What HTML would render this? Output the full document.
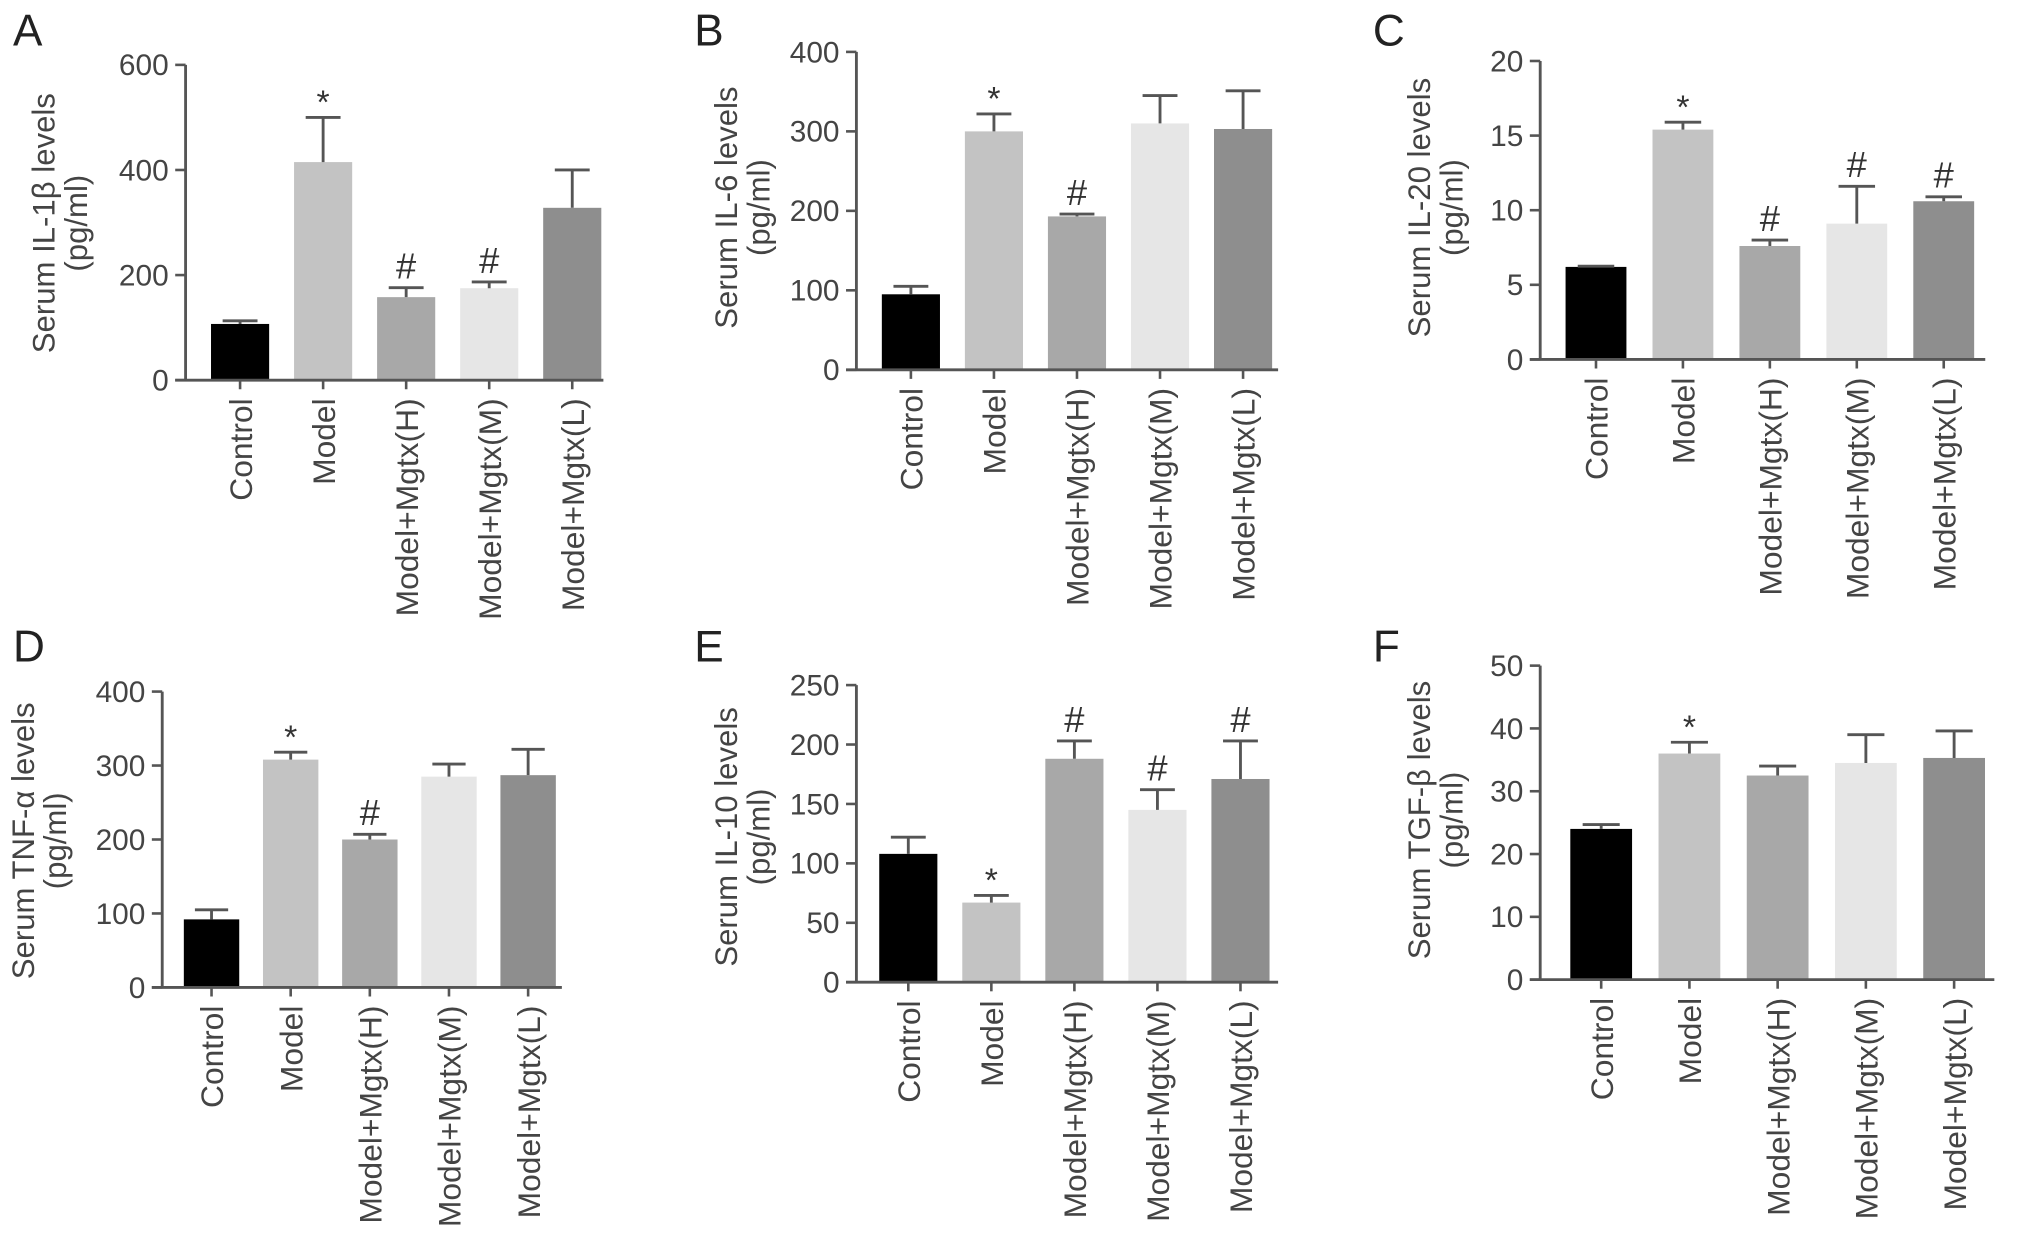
<!DOCTYPE html>
<html><head><meta charset="utf-8"><style>
html,body{margin:0;padding:0;background:#fff;}
svg{display:block;font-family:"Liberation Sans",sans-serif;}
</style></head><body>
<svg id="fig" width="2032" height="1249" viewBox="0 0 1566 962.6" xmlns="http://www.w3.org/2000/svg"></svg>
<script>
const categories = ["Control","Model","Model+Mgtx(H)","Model+Mgtx(M)","Model+Mgtx(L)"];
const valuesA = [107,415,158,175,328];
const errorsA = [6,85,18,12,72];
const marksA = ["","*","#","#",""];
const valuesB = [95,300,193,310,303];
const errorsB = [10,22,3,35,48];
const marksB = ["","*","#","",""];
const valuesC = [6.2,15.4,7.6,9.1,10.6];
const errorsC = [0.05,0.5,0.4,2.5,0.3];
const marksC = ["","*","#","#","#"];
const valuesD = [92,308,200,285,287];
const errorsD = [13,10,7,17,35];
const marksD = ["","*","#","",""];
const valuesE = [108,67,188,145,171];
const errorsE = [14,6,15,17,32];
const marksE = ["","*","#","#","#"];
const valuesF = [24,36,32.5,34.5,35.3];
const errorsF = [0.7,1.8,1.5,4.5,4.3];
const marksF = ["","*","","",""];
const ticksA = [0,200,400,600];
const ticksB = [0,100,200,300,400];
const ticksC = [0,5,10,15,20];
const ticksD = [0,100,200,300,400];
const ticksE = [0,50,100,150,200,250];
const ticksF = [0,10,20,30,40,50];

const colors = ["#000","#c3c3c3","#a8a8a8","#e6e6e6","#8e8e8e"];
const NS = "http://www.w3.org/2000/svg";
const svg = document.getElementById("fig");
const TXT = "#444";
function el(tag, attrs, parent){
  const e = document.createElementNS(NS, tag);
  for (const k in attrs) e.setAttribute(k, attrs[k]);
  (parent||svg).appendChild(e);
  return e;
}
const panels = [
  {id:"a",letter:"A",lx:10,ly:35,ax:143,top:50,bot:293,first:42,sp:64,end:465,vals:valuesA,errs:errorsA,marks:marksA,ticks:ticksA,t1:"Serum IL-1β levels",t2:"(pg/ml)",tx:42,ty:172},
  {id:"b",letter:"B",lx:535,ly:35,ax:660,top:40,bot:285,first:42,sp:64,end:985,vals:valuesB,errs:errorsB,marks:marksB,ticks:ticksB,t1:"Serum IL-6 levels",t2:"(pg/ml)",tx:568,ty:160},
  {id:"c",letter:"C",lx:1058,ly:35,ax:1187,top:47,bot:277,first:43,sp:67,end:1530,vals:valuesC,errs:errorsC,marks:marksC,ticks:ticksC,t1:"Serum IL-20 levels",t2:"(pg/ml)",tx:1102,ty:160},
  {id:"d",letter:"D",lx:10,ly:510,ax:125,top:533,bot:761,first:38,sp:61,end:433,vals:valuesD,errs:errorsD,marks:marksD,ticks:ticksD,t1:"Serum TNF-α levels",t2:"(pg/ml)",tx:26,ty:648},
  {id:"e",letter:"E",lx:535,ly:510,ax:660,top:528,bot:757,first:40,sp:64,end:985,vals:valuesE,errs:errorsE,marks:marksE,ticks:ticksE,t1:"Serum IL-10 levels",t2:"(pg/ml)",tx:568,ty:645},
  {id:"f",letter:"F",lx:1058,ly:510,ax:1187,top:513,bot:755,first:47,sp:68,end:1537,vals:valuesF,errs:errorsF,marks:marksF,ticks:ticksF,t1:"Serum TGF-β levels",t2:"(pg/ml)",tx:1102,ty:632}
];
panels.forEach(p=>{
  const g = el("g",{});
  
  
  const maxV = p.ticks[p.ticks.length-1];
  const y = v => p.bot - (v/maxV)*(p.bot-p.top);
  const cx = i => p.ax + p.first + i*p.sp;
  const bw = p.sp*0.7;
  const L = el("text",{x:p.lx,y:p.ly,"font-size":34,fill:"#222"},g); L.textContent=p.letter;
  
  
  p.vals.forEach((v,i)=>{
    const r = el("rect",{x:cx(i)-bw/2,y:y(v),width:bw,height:p.bot-y(v),fill:colors[i]},g);
    
    
    const et = y(v+p.errs[i]);
    const eb = el("path",{d:`M${cx(i)} ${y(v)} V${et} M${cx(i)-bw*0.3} ${et} H${cx(i)+bw*0.3}`,stroke:"#555","stroke-width":2.2,fill:"none"},g);
    
    
    if (p.marks[i]) {
      const m = el("text",{x:cx(i),y:et-(p.marks[i]==="*"?3:7),"font-size":p.marks[i]==="*"?26:28,"text-anchor":"middle",fill:"#333"},g);
      m.textContent = p.marks[i];
      
      
    }
    const lt = el("text",{x:0,y:0,"font-size":24.5,fill:TXT,"text-anchor":"end",transform:`translate(${cx(i)+9},${p.bot+14}) rotate(-90)`},g);
    lt.textContent = categories[i];
    
    
    el("line",{x1:cx(i),x2:cx(i),y1:p.bot,y2:p.bot+7,stroke:"#555","stroke-width":2},g);
  });
  const axes = el("path",{d:`M${p.ax} ${p.top} V${p.bot} M${p.ax-8} ${p.bot} H${p.end}`,stroke:"#555","stroke-width":2.2,fill:"none"},g);
  
  
  p.ticks.forEach(t=>{
    el("line",{x1:p.ax-8,x2:p.ax,y1:y(t),y2:y(t),stroke:"#555","stroke-width":2},g);
    const tl = el("text",{x:p.ax-13,y:y(t)+8,"font-size":23,fill:TXT,"text-anchor":"end"},g);
    tl.textContent = t;
    
    
  });
  const yt = el("text",{"font-size":24,fill:TXT,"text-anchor":"middle",transform:`translate(${p.tx},${p.ty}) rotate(-90)`},g);
  
  
  const s1 = el("tspan",{x:0,y:0},yt); s1.textContent=p.t1;
  const s2 = el("tspan",{x:0,y:25},yt); s2.textContent=p.t2;
});
</script>
</body></html>
